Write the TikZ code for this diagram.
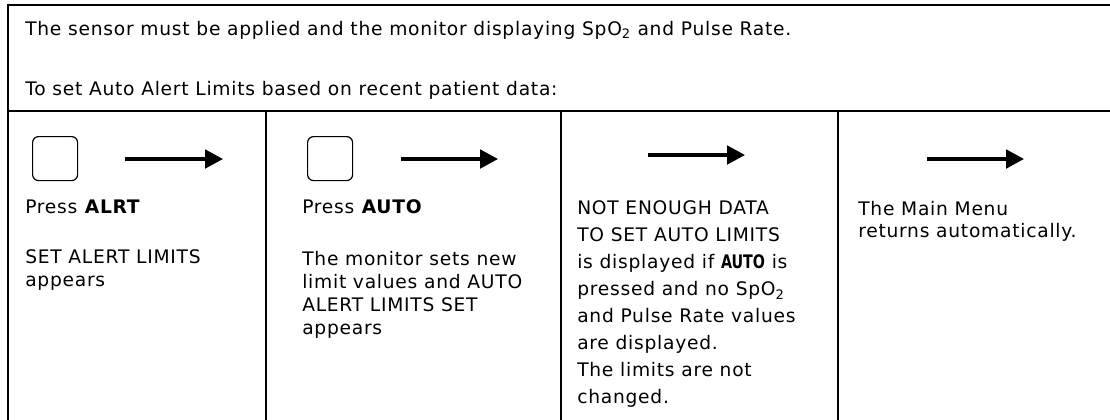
\documentclass[tikz,border=0pt]{standalone}
\usepackage{fontspec}
\setmainfont[LetterSpace=4]{DejaVu Sans}
\newfontfamily\narrowbold[FakeStretch=0.85]{DejaVu Sans Condensed Bold}
\usetikzlibrary{arrows.meta}

\tikzset{
  rule/.style={line width=1.6pt, line cap=rect},
  keybox/.style={draw, line width=0.9pt, rounded corners=4.5pt,
    minimum width=33.75pt, minimum height=33pt, inner sep=0pt, anchor=north west},
  flow/.style={line width=2.3pt, -{Triangle[length=13.5pt,width=14pt]}},
  % the rule fixes the first baseline below the top of each text block
  cell/.style={anchor=north west, inner sep=0pt, align=left,
    font=\fontsize{14pt}{17.25pt}\selectfont,
    execute at begin node={\rule{0pt}{15pt}}},
  wide/.style={font=\fontsize{14pt}{20.25pt}\selectfont},
  tight/.style={font=\fontsize{14pt}{16.75pt}\selectfont},
}

\begin{document}
\begin{tikzpicture}[x=0.75pt, y=-0.75pt]
  \useasboundingbox (0,0) rectangle (1110,419);

  % table frame (open on the right and at the bottom)
  \draw[rule] (1112,5) -- (8,5) -- (8,421);
  \draw[rule] (8,111) -- (1112,111);
  \foreach \x in {266,561,838} \draw[rule] (\x,111) -- (\x,421);

  % header text
  \node[cell] (intro) at (25,15.3)
    {The sensor must be applied and the monitor displaying SpO\textsubscript{2} and Pulse Rate.};
  \node[cell] (task) at (25,75.3)
    {To set Auto Alert Limits based on recent patient data:};

  % key symbols
  \node[keybox] (alrt) at (32,136) {};
  \node[keybox] (auto) at (307,136) {};

  % step arrows
  \coordinate (a1s) at (125,159); \coordinate (a1e) at (223,159);
  \coordinate (a2s) at (401,159); \coordinate (a2e) at (498,159);
  \coordinate (a3s) at (648,155); \coordinate (a3e) at (745,155);
  \coordinate (a4s) at (927,159); \coordinate (a4e) at (1024,159);
  \draw[flow] (a1s) -- (a1e);
  \draw[flow] (a2s) -- (a2e);
  \draw[flow] (a3s) -- (a3e);
  \draw[flow] (a4s) -- (a4e);

  % step texts
  \node[cell] (s1a) at (25,192.8) {Press \textbf{ALRT}};
  \node[cell] (s1b) at (25,249.8) {SET ALERT LIMITS\\appears};

  \node[cell] (s2a) at (302,192.8) {Press \textbf{AUTO}};
  \node[cell] (s2b) at (302,250.8) {The monitor sets new\\limit values and AUTO\\ALERT LIMITS SET\\appears};

  \node[cell, wide] (s3) at (577,200.8) {NOT ENOUGH DATA\\TO SET AUTO LIMITS\\is displayed if {\narrowbold AUTO} is\\pressed and no SpO\textsubscript{2}\\and Pulse Rate values\\are displayed.\\The limits are not\\changed.};

  \node[cell, tight] (s4) at (858,200.8) {The Main Menu\\returns automatically.};
\end{tikzpicture}
\end{document}
